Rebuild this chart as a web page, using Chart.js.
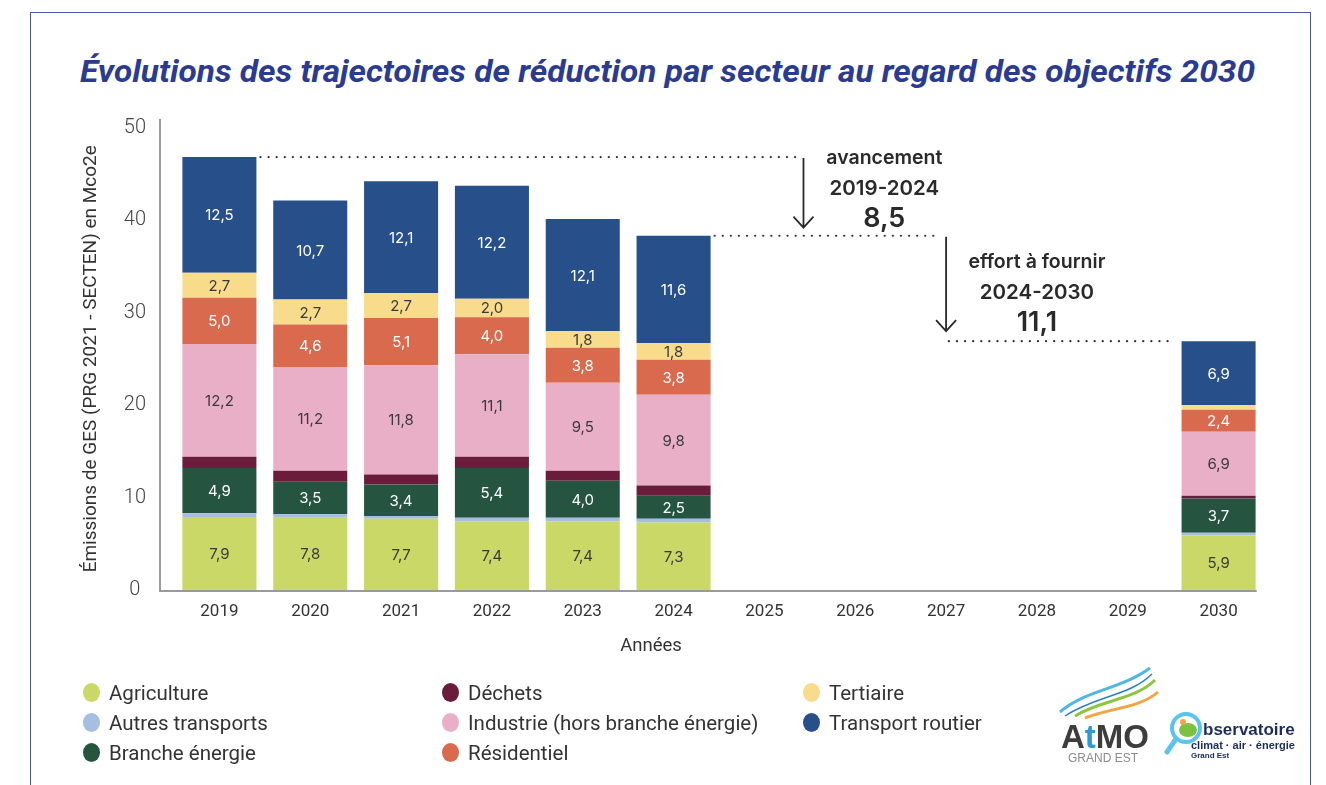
<!DOCTYPE html>
<html><head><meta charset="utf-8">
<script src="https://cdn.jsdelivr.net/npm/chart.js@4.4.1/dist/chart.umd.min.js"></script>
<style>
html,body{margin:0;padding:0;background:#fff;width:1326px;height:785px;overflow:hidden;}
#wrap{position:relative;width:1326px;height:785px;}
#frame{position:absolute;left:30px;top:12px;width:1281px;height:820px;border:1.5px solid #4a5aa8;box-sizing:border-box;}
#title{position:absolute;left:80px;top:53px;white-space:nowrap;font-family:Roboto;font-style:italic;font-weight:700;font-size:32px;line-height:36px;color:#2b3b90;transform-origin:0 0;}
canvas{position:absolute;left:0;top:0;}
.lg{position:absolute;font-family:Roboto;font-size:20.5px;color:#333;white-space:nowrap;line-height:22px;}
.lg i{position:absolute;left:0;top:1px;width:17px;height:19px;border-radius:50%;}
.lg span{position:absolute;left:26px;top:0;}
#logo{position:absolute;left:0;top:0;}
</style></head>
<body><div id="wrap">
<div id="frame"></div>
<div id="title">Évolutions des trajectoires de réduction par secteur au regard des objectifs 2030</div>
<canvas id="c" width="1326" height="785"></canvas>
<div id="legend"></div>
<svg id="logo" width="1326" height="785" viewBox="0 0 1326 785">
  <path d="M1060 712 C1085 690 1120 690 1150 668" stroke="#4fb6e6" stroke-width="3" fill="none"/>
  <path d="M1075 716 C1100 700 1135 700 1155 680" stroke="#8cc63f" stroke-width="3" fill="none"/>
  <path d="M1085 718 C1110 708 1140 708 1158 692" stroke="#f5a540" stroke-width="3" fill="none"/>
  <path d="M1065 716 C1095 696 1130 696 1152 674" stroke="#2a7fc4" stroke-width="1.5" fill="none"/>
  <text x="1061" y="748" font-family="Liberation Sans" font-weight="700" font-size="33" fill="#3d3d3d">A<tspan fill="#2c9ad6">t</tspan>MO</text>
  <text x="1068" y="762" font-family="Liberation Sans" font-size="12" fill="#8a8a8a">GRAND EST</text>
  <circle cx="1186" cy="728" r="14" fill="#fff" stroke="#5cc3ee" stroke-width="4"/>
  <ellipse cx="1188" cy="730" rx="9" ry="7" fill="#7cc242"/>
  <line x1="1176" y1="739" x2="1167" y2="752" stroke="#5cc3ee" stroke-width="5" stroke-linecap="round"/>
  <circle cx="1183" cy="722" r="3" fill="#f5a540"/>
  <text x="1203" y="735" font-family="Liberation Sans" font-weight="700" font-size="17" fill="#1c2b5e">bservatoire</text>
  <text x="1191" y="749" font-family="Liberation Sans" font-weight="700" font-size="11" fill="#1c2b5e">climat · air · énergie</text>
  <text x="1191" y="758" font-family="Liberation Sans" font-weight="700" font-size="8" fill="#1c2b5e">Grand Est</text>
</svg>
</div>
<script>
const years = ['2019','2020','2021','2022','2023','2024','2025','2026','2027','2028','2029','2030'];
const agriculture      = [7.9, 7.8, 7.7, 7.4, 7.4, 7.3, null, null, null, null, null, 5.9];
const autresTransports = [0.4, 0.4, 0.3, 0.4, 0.4, 0.4, null, null, null, null, null, 0.3];
const brancheEnergie   = [4.9, 3.5, 3.4, 5.4, 4.0, 2.5, null, null, null, null, null, 3.7];
const dechets          = [1.2, 1.2, 1.1, 1.2, 1.1, 1.1, null, null, null, null, null, 0.3];
const industrie        = [12.2, 11.2, 11.8, 11.1, 9.5, 9.8, null, null, null, null, null, 6.9];
const residentiel      = [5.0, 4.6, 5.1, 4.0, 3.8, 3.8, null, null, null, null, null, 2.4];
const tertiaire        = [2.7, 2.7, 2.7, 2.0, 1.8, 1.8, null, null, null, null, null, 0.5];
const transportRoutier = [12.5, 10.7, 12.1, 12.2, 12.1, 11.6, null, null, null, null, null, 6.9];
const yTicks = [0, 10, 20, 30, 40, 50];
const avancementText = ['avancement', '2019-2024', '8,5'];
const effortText = ['effort à fournir', '2024-2030', '11,1'];

const series = [
  {label:'Agriculture', data:agriculture, color:'#c9d866', txt:'#3a3a3a'},
  {label:'Autres transports', data:autresTransports, color:'#a5bee2', txt:'#3a3a3a'},
  {label:'Branche énergie', data:brancheEnergie, color:'#255541', txt:'#ffffff'},
  {label:'Déchets', data:dechets, color:'#6b1c3a', txt:'#ffffff'},
  {label:'Industrie (hors branche énergie)', data:industrie, color:'#e9afc7', txt:'#3a3a3a'},
  {label:'Résidentiel', data:residentiel, color:'#d96a4e', txt:'#ffffff'},
  {label:'Tertiaire', data:tertiaire, color:'#f8dc8b', txt:'#3a3a3a'},
  {label:'Transport routier', data:transportRoutier, color:'#27508b', txt:'#ffffff'}
];

// legend (column-major, 3 rows)
const lgX=[83,442,803], lgY=[682,712,742];
const legendEl=document.getElementById('legend');
series.forEach((s,i)=>{
  const d=document.createElement('div'); d.className='lg';
  d.style.left=lgX[Math.floor(i/3)]+'px'; d.style.top=lgY[i%3]+'px';
  d.innerHTML='<i style="background:'+s.color+'"></i><span>'+s.label+'</span>';
  legendEl.appendChild(d);
});

// title fit
const t=document.getElementById('title');
const tw=t.getBoundingClientRect().width;
t.style.transform='scaleX('+(1175/tw)+')';

const fmt=v=>v.toFixed(1).replace('.',',');
const totals=years.map((y,j)=>series.reduce((a,s)=>a+(s.data[j]||0),0));

const labelPlugin={
  id:'segLabels',
  afterDatasetsDraw(chart){
    const ctx=chart.ctx; ctx.save();
    ctx.font='400 15px Inter'; ctx.textAlign='center'; ctx.textBaseline='middle';
    chart.data.datasets.forEach((ds,i)=>{
      const meta=chart.getDatasetMeta(i);
      meta.data.forEach((bar,j)=>{
        const v=ds.data[j];
        if(v==null||v<1.5) return;
        ctx.fillStyle=series[i].txt;
        ctx.fillText(fmt(v), bar.x, (bar.y+bar.base)/2+1);
      });
    });
    ctx.restore();
  }
};

const annoPlugin={
  id:'anno',
  afterDraw(chart){
    const ctx=chart.ctx, xs=chart.scales.x, ys=chart.scales.y;
    ctx.save();
    // axes
    ctx.strokeStyle='#9a9a9a'; ctx.lineWidth=2;
    ctx.beginPath(); ctx.moveTo(160,119); ctx.lineTo(160,591); ctx.lineTo(xs.getPixelForValue(11.42),591); ctx.stroke();
    // x axis title
    ctx.fillStyle='#333'; ctx.font='18.5px Roboto'; ctx.textAlign='center'; ctx.textBaseline='middle';
    ctx.fillText('Années', 651, 646);
    const m=chart.getDatasetMeta(7);
    const y19=ys.getPixelForValue(totals[0]), y24=ys.getPixelForValue(totals[5]), y30=ys.getPixelForValue(totals[11]);
    const right19=m.data[0].x+m.data[0].width/2, right24=m.data[5].x+m.data[5].width/2, left30=m.data[11].x-m.data[11].width/2;
    ctx.strokeStyle='#333'; ctx.lineWidth=2.2; ctx.lineCap='round'; ctx.setLineDash([0.1,8]);
    const dl=(x1,x2,y)=>{ctx.beginPath();ctx.moveTo(x1,y);ctx.lineTo(x2,y);ctx.stroke();};
    dl(right19+4, xs.getPixelForValue(6.35), y19);
    dl(right24+4, xs.getPixelForValue(7.94), y24);
    dl(xs.getPixelForValue(8.03), left30-6, y30);
    ctx.setLineDash([]); ctx.lineCap='butt'; ctx.lineWidth=1.8; ctx.strokeStyle='#2a2a2a';
    const arrow=(x,y1,y2)=>{ctx.beginPath();ctx.moveTo(x,y1);ctx.lineTo(x,y2);ctx.moveTo(x-10,y2-11);ctx.lineTo(x,y2);ctx.lineTo(x+10,y2-11);ctx.stroke();};
    arrow(xs.getPixelForValue(6.43), y19+1, y24-8);
    arrow(xs.getPixelForValue(8.0), y24+1, y30-10);
    ctx.fillStyle='#2a2a2a';
    const block=(x,yTop,lines)=>{
      ctx.font='600 19.5px Inter'; ctx.fillText(lines[0],x,yTop);
      ctx.font='600 20.5px Inter'; ctx.fillText(lines[1],x,yTop+31);
      ctx.font='600 27px Inter'; ctx.fillText(lines[2],x,yTop+61);
    };
    block(xs.getPixelForValue(7.32), y19+1, avancementText);
    block(xs.getPixelForValue(9.0), y24+26, effortText);
    ctx.restore();
  }
};

new Chart(document.getElementById('c'),{
  type:'bar',
  data:{labels:years, datasets:series.map(s=>({label:s.label,data:s.data,backgroundColor:s.color,borderWidth:0,categoryPercentage:1,barPercentage:0.815}))},
  options:{
    responsive:false, animation:false,
    layout:{padding:{left:80,right:62,top:127.5,bottom:0}},
    plugins:{legend:{display:false},tooltip:{enabled:false},title:{display:false}},
    scales:{
      x:{stacked:true, grid:{display:false,drawTicks:false}, border:{display:false},
         ticks:{font:{family:'Roboto',size:17},color:'#333',padding:12,maxRotation:0,autoSkip:false},
         afterFit(s){s.height=195;}},
      y:{stacked:true, min:0, max:50, grid:{display:false,drawTicks:false}, border:{display:false},
         afterBuildTicks(s){s.ticks=yTicks.map(v=>({value:v}));},
         ticks:{font:{family:'Roboto',size:20,weight:'300'},color:'#444',padding:28,crossAlign:'center'},
         title:{display:true,text:'Émissions de GES (PRG 2021 - SECTEN) en Mco2e',font:{family:'Roboto',size:19},color:'#333',padding:{top:0,bottom:4}},
         afterFit(s){s.width=94;}}
    }
  },
  plugins:[labelPlugin,annoPlugin]
});
</script>
</body></html>
